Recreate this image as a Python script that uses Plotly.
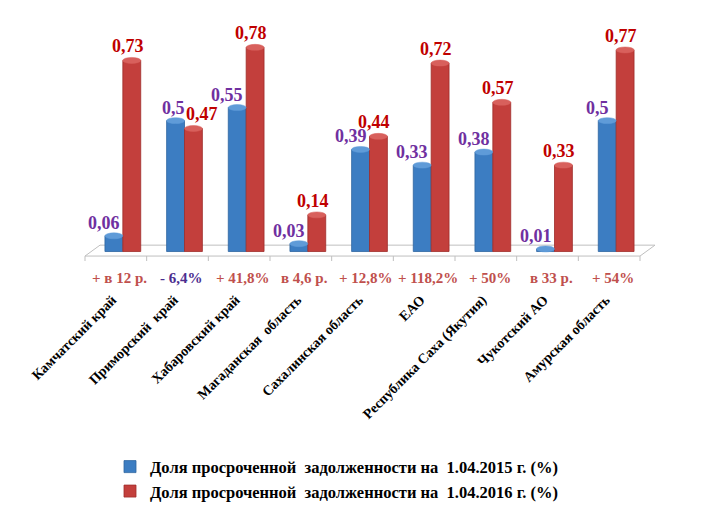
import plotly.graph_objects as go

categories = ["Камчатский край", "Приморский  край", "Хабаровский край", "Магаданская  область",
              "Сахалинская область", "ЕАО", "Республика Саха (Якутия)", "Чукотский АО", "Амурская область"]
share_2015 = [0.06, 0.5, 0.55, 0.03, 0.39, 0.33, 0.38, 0.01, 0.5]
share_2016 = [0.73, 0.47, 0.78, 0.14, 0.44, 0.72, 0.57, 0.33, 0.77]
labels_2015 = ["0,06", "0,5", "0,55", "0,03", "0,39", "0,33", "0,38", "0,01", "0,5"]
labels_2016 = ["0,73", "0,47", "0,78", "0,14", "0,44", "0,72", "0,57", "0,33", "0,77"]
changes = ["+ в 12 р.", "- 6,4%", "+ 41,8%", "в 4,6 р.", "+ 12,8%", "+ 118,2%", "+ 50%", "в 33 р.", "+ 54%"]
change_colors = ["#C0504D", "#4B2D8F", "#C0504D", "#C0504D", "#C0504D", "#C0504D", "#C0504D", "#C0504D", "#C0504D"]
series_names = ["Доля просроченной\u00a0 задолженности на\u00a0 1.04.2015 г. (%)",
                "Доля просроченной\u00a0 задолженности на\u00a0 1.04.2016 г. (%)"]

BLUE = "#3C7DC2"
RED = "#C33F3C"
FONT = "Liberation Serif"

# layout geometry (pixels); the page body adds an 8px offset
OFF = 8
W, H = 703, 512
PW, PH = 555, 235
L, T = 92 - OFF, 29 - OFF
R, B = W - L - PW, H - T - PH
YMIN, YMAX = -0.04, 0.85
n = len(categories)
BARGAP = 0.42

x = list(range(n))
fig = go.Figure()
fig.add_trace(go.Bar(x=x, y=share_2015, name=series_names[0],
                     marker=dict(color=BLUE, line=dict(color="#2D64A0", width=0.8)), hoverinfo="skip"))
fig.add_trace(go.Bar(x=x, y=share_2016, name=series_names[1],
                     marker=dict(color=RED, line=dict(color="#9E2C2A", width=0.8)), hoverinfo="skip"))


def px_x(p):
    return (p - OFF - L) / PW


def px_y(p):
    return (T + PH - (p - OFF)) / PH


unit_px = PH / (YMAX - YMIN)
half = (1 - BARGAP) / 4  # half-width of one bar in data units

# cylinder caps
shapes = []
cap_h = 3.0 / unit_px
for i in range(n):
    for v, off, col in ((share_2015[i], -half, "#5F9BD8"), (share_2016[i], half, "#D8605C")):
        shapes.append(dict(type="circle", xref="x", yref="y", x0=i + off - half, x1=i + off + half,
                           y0=v - cap_h, y1=v + cap_h, fillcolor=col, line=dict(color=col, width=0.5),
                           layer="above"))

# floor (pseudo-3D) derived from the category axis
step_px = PW / n
front_y, back_y = 258, 247
fx0 = 92 - 7
bx0 = 92 + 8
path = (f"M {px_x(fx0)},{px_y(front_y)} L {px_x(fx0 + n * step_px)},{px_y(front_y)} "
        f"L {px_x(bx0 + n * step_px)},{px_y(back_y)} L {px_x(bx0)},{px_y(back_y)} Z")
shapes.insert(0, dict(type="path", xref="paper", yref="paper", path=path, fillcolor="white",
                      line=dict(color="#BFBFBF", width=1), layer="below"))
for k in range(n + 1):
    xp = px_x(fx0 + k * step_px)
    shapes.append(dict(type="line", xref="paper", yref="paper", x0=xp, x1=xp,
                       y0=px_y(front_y), y1=px_y(front_y + 5), line=dict(color="#BFBFBF", width=1)))

annotations = []
nudge_2015 = {1: 8}
nudge_2016 = {1: 13}
for i in range(n):
    annotations.append(dict(x=i - half, y=share_2015[i], xref="x", yref="y", text=labels_2015[i],
                            showarrow=False, xshift=-10 + nudge_2015.get(i, 0), yshift=13, yanchor="middle",
                            font=dict(family=FONT, size=18, color="#7030A0", weight="bold")))
    annotations.append(dict(x=i + half, y=share_2016[i], xref="x", yref="y", text=labels_2016[i],
                            showarrow=False, xshift=-4 + nudge_2016.get(i, 0), yshift=14, yanchor="middle",
                            font=dict(family=FONT, size=18, color="#C00000", weight="bold")))
    annotations.append(dict(x=i - 0.05, y=px_y(280), xref="x", yref="paper", text=changes[i], showarrow=False,
                            yanchor="middle",
                            font=dict(family=FONT, size=15, color=change_colors[i], weight="bold")))

fig.update_layout(
    width=W, height=H,
    margin=dict(l=L, r=R, t=T, b=B, pad=0),
    paper_bgcolor="white", plot_bgcolor="rgba(0,0,0,0)",
    barmode="group", bargap=BARGAP, bargroupgap=0,
    shapes=shapes, annotations=annotations,
    showlegend=True,
    legend=dict(x=px_x(110), y=px_y(453), xanchor="left", yanchor="top",
                font=dict(family=FONT, size=16.5, color="black", weight="bold"),
                bgcolor="rgba(0,0,0,0)", itemwidth=30, tracegroupgap=0),
    xaxis=dict(range=[-0.5, n - 0.5], tickvals=[i - 0.17 for i in x], ticktext=categories, tickangle=-45,
               showgrid=False, zeroline=False, showline=False, ticks="",
               ticklabelstandoff=26,
               tickfont=dict(family=FONT, size=14, color="black", weight="bold")),
    yaxis=dict(range=[YMIN, YMAX], visible=False, showgrid=False, zeroline=False),
)
fig.update_traces(cliponaxis=False)

fig.write_html("out.html")
